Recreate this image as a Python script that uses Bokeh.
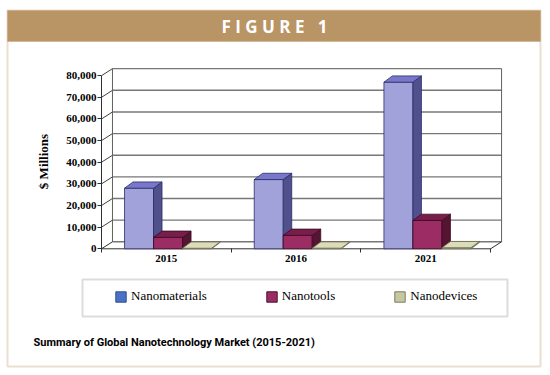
import math
from bokeh.plotting import figure
from bokeh.models import (Range1d, FixedTicker, NumeralTickFormatter, Label,
                          BoxAnnotation, Legend, LegendItem)
from bokeh.embed import file_html
from bokeh.resources import INLINE

# ---------------- data ----------------
years = ["2015", "2016", "2021"]
series = ["Nanomaterials", "Nanotools", "Nanodevices"]
nanomaterials = [28000, 32000, 77000]
nanotools = [5300, 6200, 13100]
nanodevices = [250, 300, 500]
y_ticks = [0, 10000, 20000, 30000, 40000, 50000, 60000, 70000, 80000]
y_label = "$ Millions"
header = "F I G U R E \u00a0\u00a01"
caption = "Summary of Global Nanotechnology Market (2015-2021)"

# face colours (front, side, top, outline) and legend colours
face_colors = [
    ("#A2A2DA", "#50508C", "#7878C8", "#2B2B6B"),
    ("#9B2D64", "#551432", "#781E4B", "#3A0A22"),
    ("#CCCC9C", "#8C8C6A", "#DCDCB8", "#6A6A50"),
]
legend_colors = [("#4A72C4", "#2F4F8F"), ("#9B2D64", "#4A1030"), ("#C8C8A0", "#7A7A60")]
TAN = "#B99465"

# ---------------- geometry ----------------
W, H = 550, 375
PX_X = 129.7            # pixels per category
PX_Y = 21.64 / 10000    # pixels per value unit
ORIG_X, ORIG_Y = 101.0, 248.3   # canvas position of (0, 0)
X0 = -ORIG_X / PX_X
X1 = (W - ORIG_X) / PX_X
Y0 = -(H - ORIG_Y) / PX_Y
Y1 = ORIG_Y / PX_Y
DX, DYV = 0.0846, 3240          # wall depth (x units, value units)
BDX, BDY = 0.0655, 2900         # bar depth
BAR_W = 0.2236
SHIFT = 0.013


def sx(cx):   # canvas x -> screen units
    return cx


def sy(cy):   # canvas y (top-down) -> screen units (bottom-up)
    return H - cy


p = figure(width=W, height=H, output_backend="svg", toolbar_location=None,
           x_range=Range1d(X0, X1), y_range=Range1d(Y0, Y1),
           min_border=0, min_border_left=0, min_border_right=0,
           min_border_top=0, min_border_bottom=0)
p.outline_line_color = None
p.background_fill_color = "white"
p.border_fill_color = "white"
p.xgrid.visible = False
p.ygrid.visible = False

# ---------------- walls & grid ----------------
gx0, gy0, gx1, gy1 = [], [], [], []
for v in y_ticks:
    gx0.append(DX); gy0.append(v + DYV); gx1.append(3 + DX); gy1.append(v + DYV)
p.segment(gx0, gy0, gx1, gy1, line_color="#777777", line_width=1.4)
sx0, sy0, sx1, sy1 = [], [], [], []
for v in y_ticks[1:]:
    sx0.append(0); sy0.append(v); sx1.append(DX); sy1.append(v + DYV)
p.segment(sx0, sy0, sx1, sy1, line_color="#404040", line_width=1)
ymax = y_ticks[-1]
p.segment([DX, 3 + DX], [DYV, DYV], [DX, 3 + DX], [ymax + DYV, ymax + DYV],
          line_color="#606060", line_width=1)
# front axis, floor
p.segment([0, 0, 3, 0], [0, 0, 0, 0], [0, 3, 3 + DX, DX], [ymax, 0, DYV, DYV],
          line_color="#303030", line_width=1)

# ---------------- 3D bars ----------------
all_vals = [nanomaterials, nanotools, nanodevices]
leg_items = []
for s, vals in enumerate(all_vals):
    front, side, top, edge = face_colors[s]
    lefts, rights = [], []
    for i, _ in enumerate(years):
        a = i + 0.5 + SHIFT - 1.5 * BAR_W + s * BAR_W
        lefts.append(a); rights.append(a + BAR_W)
    sxs, sys_, txs, tys = [], [], [], []
    for a, b, v in zip(lefts, rights, vals):
        sxs.append([b, b + BDX, b + BDX, b]); sys_.append([0, BDY, v + BDY, v])
        txs.append([a, a + BDX, b + BDX, b]); tys.append([v, v + BDY, v + BDY, v])
    # zero-size swatch renderer (only used for the legend colours)
    lc, le = legend_colors[s]
    r = p.quad(left=lefts[:1], right=lefts[:1], top=[0], bottom=[0],
               fill_color=lc, line_color=le, line_width=1)
    leg_items.append(LegendItem(label=series[s], renderers=[r], index=0))
    p.quad(left=lefts, right=rights, bottom=[0] * len(vals), top=vals,
           fill_color=front, line_color=edge, line_width=0.8)
    p.patches(sxs, sys_, fill_color=side, line_color=edge, line_width=0.8)
    p.patches(txs, tys, fill_color=top, line_color=edge, line_width=0.8)

# ---------------- axes (fixed at data 0) ----------------
ya = p.yaxis[0]
ya.fixed_location = 0
ya.ticker = FixedTicker(ticks=y_ticks)
ya.formatter = NumeralTickFormatter(format="0,0")
ya.axis_line_color = None
ya.major_tick_in = 0
ya.major_tick_out = 4
ya.major_tick_line_color = "#303030"
ya.minor_tick_line_color = None
ya.major_label_standoff = 1
ya.major_label_text_font = "Liberation Serif"
ya.major_label_text_font_style = "bold"
ya.major_label_text_font_size = "11px"
ya.major_label_text_color = "black"

xa = p.xaxis[0]
xa.fixed_location = 0
xa.ticker = FixedTicker(ticks=[i + 0.5 for i in range(len(years))],
                        minor_ticks=list(range(len(years) + 1)))
xa.major_label_overrides = {i + 0.5: y for i, y in enumerate(years)}
xa.axis_line_color = None
xa.major_tick_line_color = None
xa.major_tick_in = 0
xa.major_tick_out = 0
xa.minor_tick_in = 0
xa.minor_tick_out = 4
xa.minor_tick_line_color = "#303030"
xa.major_label_standoff = 2
xa.major_label_text_font = "Liberation Serif"
xa.major_label_text_font_style = "bold"
xa.major_label_text_font_size = "11px"
xa.major_label_text_color = "black"

# ---------------- decoration ----------------
def screen_box(l, r, t, b, **kw):
    return BoxAnnotation(left=sx(l), right=sx(r), top=sy(t), bottom=sy(b),
                         left_units="screen", right_units="screen",
                         top_units="screen", bottom_units="screen", **kw)


p.add_layout(screen_box(7, 540, 10, 41, fill_color=TAN, fill_alpha=1,
                        line_color=TAN, level="underlay"))
p.add_layout(screen_box(7, 540, 10, 366, fill_alpha=0, line_color=TAN,
                        line_width=2, level="underlay"))
p.add_layout(screen_box(82, 507, 279, 316, fill_alpha=0, line_color="#8C8C8C",
                        line_width=2, level="underlay"))
p.add_layout(Label(x=sx(274), y=sy(25.5), x_units="screen", y_units="screen",
                   text=header, text_align="center", text_baseline="middle",
                   text_color="white", text_font="Open Sans",
                   text_font_style="bold", text_font_size="17px"))
p.add_layout(Label(x=sx(43), y=sy(161), x_units="screen", y_units="screen",
                   text=y_label, text_align="center", text_baseline="middle",
                   angle=math.pi / 2, text_color="black",
                   text_font="Liberation Serif", text_font_style="bold",
                   text_font_size="13px"))
p.add_layout(Label(x=sx(33), y=sy(342), x_units="screen", y_units="screen",
                   text=caption, text_align="left", text_baseline="middle",
                   text_color="black", text_font="Roboto",
                   text_font_style="bold", text_font_size="11px"))

legend = Legend(items=leg_items, orientation="horizontal",
                location=(sx(114), sy(304)),
                glyph_width=13, glyph_height=13, label_height=13,
                label_standoff=4, spacing=58, padding=0, margin=0,
                border_line_color=None, background_fill_alpha=0,
                label_text_font="Liberation Serif", label_text_font_size="13px",
                label_text_color="black")
p.add_layout(legend)

open("out.html", "w").write(file_html(p, INLINE))
